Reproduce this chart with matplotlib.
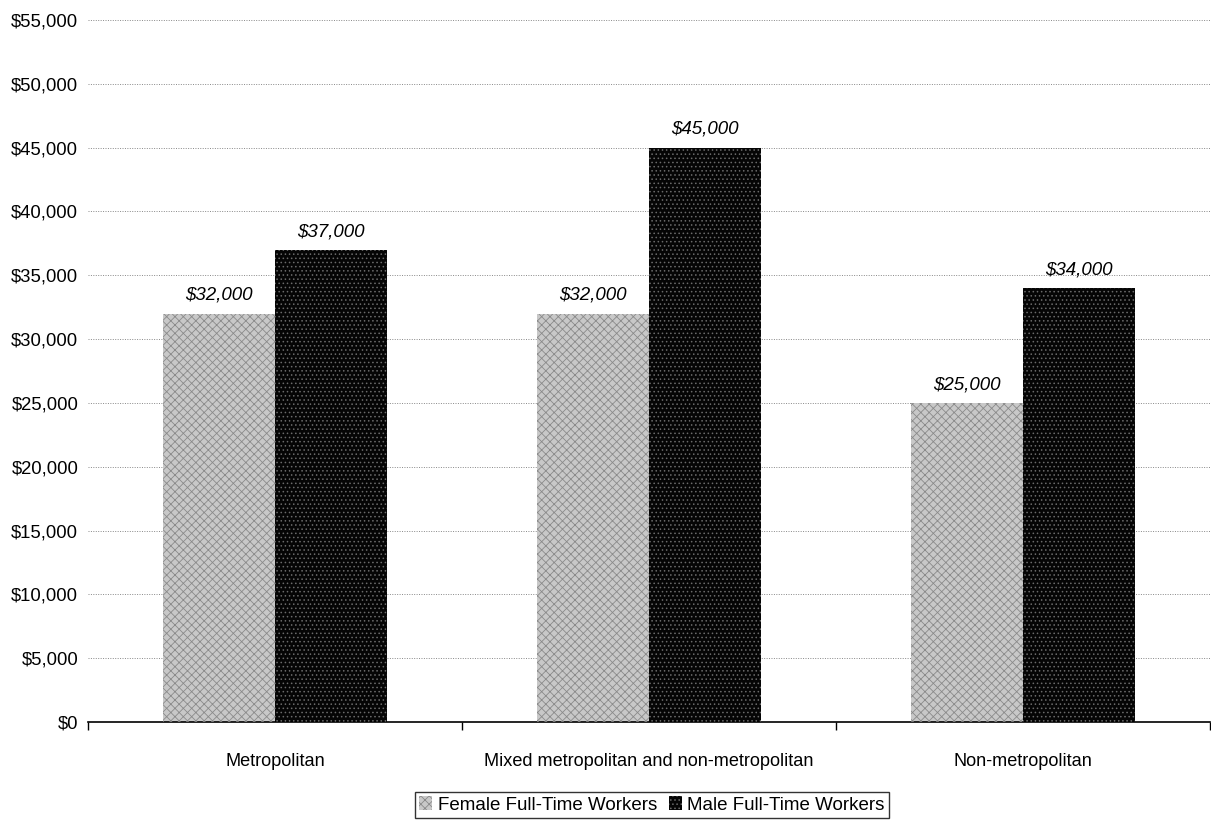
import matplotlib
matplotlib.use("Agg")
import matplotlib.pyplot as plt
from matplotlib.patches import Patch
from matplotlib.ticker import FuncFormatter, MultipleLocator, FixedLocator
import numpy as np

categories = ["Metropolitan", "Mixed metropolitan and non-metropolitan", "Non-metropolitan"]
female = [32000, 32000, 25000]
male = [37000, 45000, 34000]
series_names = ["Female Full-Time Workers", "Male Full-Time Workers"]

plt.rcParams["font.family"] = ["Liberation Sans", "DejaVu Sans"]

fig = plt.figure(figsize=(12.11, 8.22), dpi=100)
ax = fig.add_axes([88 / 1211, 100 / 822, 1122 / 1211, 702 / 822])

x = np.arange(len(categories))
w = 0.3

fem_face, fem_hatch = "#c8c8c8", "#8a8a8a"
male_face, male_hatch = "#050505", "#6a6a6a"

plt.rcParams["hatch.linewidth"] = 0.6
ax.bar(x - w / 2, female, w, color=fem_face, linewidth=0, zorder=2)
ax.bar(x - w / 2, female, w, facecolor="none", edgecolor=fem_hatch, hatch="xxxx", linewidth=0, zorder=3)
ax.bar(x + w / 2, male, w, color=male_face, linewidth=0, zorder=2)
ax.bar(x + w / 2, male, w, facecolor="none", edgecolor=male_hatch, hatch="....", linewidth=0, zorder=3)

for xs, vals in ((x - w / 2, female), (x + w / 2, male)):
    for xi, v in zip(xs, vals):
        ax.annotate(f"${v:,.0f}", (xi, v), xytext=(0, 7), textcoords="offset points",
                    ha="center", va="bottom", fontsize=13.5, style="italic", zorder=4)

ax.set_xlim(-0.5, 2.5)
ax.set_ylim(0, 55000)
ax.yaxis.set_major_locator(MultipleLocator(5000))
ax.yaxis.set_major_formatter(FuncFormatter(lambda v, p: f"${v:,.0f}"))
ax.tick_params(axis="y", length=0, pad=7, labelsize=13.3)

ax.set_xticks(x)
ax.set_xticklabels(categories)
ax.tick_params(axis="x", which="major", length=0, pad=22, labelsize=13.1)
ax.xaxis.set_minor_locator(FixedLocator([-0.5, 0.5, 1.5, 2.5]))
ax.tick_params(axis="x", which="minor", length=6, width=1, direction="out")

ax.grid(axis="y", linestyle=(0, (1, 1.5)), color="#888888", linewidth=0.7, zorder=0)
for s in ("top", "right", "left"):
    ax.spines[s].set_visible(False)
ax.spines["bottom"].set_linewidth(1.2)

handles = [
    Patch(facecolor=fem_face, edgecolor=fem_hatch, hatch="xxxx", linewidth=0),
    Patch(facecolor=male_face, edgecolor=male_hatch, hatch="....", linewidth=0),
]
leg = fig.legend(handles, series_names, loc="center", bbox_to_anchor=(652 / 1211, 1 - 805 / 822), ncol=2,
                 frameon=True, fancybox=False, edgecolor="black", fontsize=13.5,
                 handlelength=0.7, handleheight=0.7, handletextpad=0.3, columnspacing=0.6,
                 borderpad=0.25, borderaxespad=0)
leg.get_frame().set_linewidth(1.0)

fig.savefig("out.png", dpi=100)
